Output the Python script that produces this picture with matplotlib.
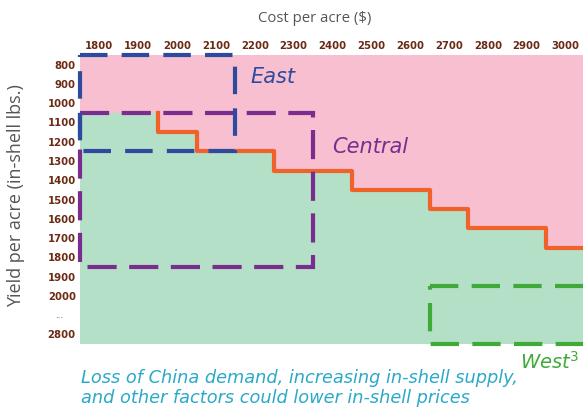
import numpy as np
import matplotlib
matplotlib.use("Agg")
import matplotlib.pyplot as plt
from matplotlib.colors import ListedColormap
from matplotlib.patches import Rectangle

# Cost per acre columns and yield per acre rows
costs = [1800, 1900, 2000, 2100, 2200, 2300, 2400, 2500, 2600, 2700, 2800, 2900, 3000]
yield_labels = ["800", "900", "1000", "1100", "1200", "1300", "1400", "1500",
                "1600", "1700", "1800", "1900", "2000", "...", "2800"]

# Lowest profitable yield (lbs/acre) for each cost level
breakeven_yield = ["1100", "1100", "1200", "1300", "1300", "1400", "1400",
                   "1500", "1500", "1600", "1700", "1700", "1800"]

# Regional operating ranges: (cost from, cost to, yield from, yield to)
east_range = (1800, 2100, "800", "1200")
central_range = (1800, 2300, "1100", "1800")
west_range = (2700, 3000, "2000", "2800")

PINK = "#F7BFD0"
GREEN = "#B4E0C8"
ORANGE = "#F0622A"
BLUE = "#2C4A9E"
PURPLE = "#7A2D8E"
WGREEN = "#3FAA38"
TEAL = "#2AA9C8"
TICK = "#6A2A14"
GRAY = "#555555"

n_rows, n_cols = len(yield_labels), len(costs)
first_ok = [yield_labels.index(y) for y in breakeven_yield]
profit = np.zeros((n_rows, n_cols))
for j, r in enumerate(first_ok):
    profit[r:, j] = 1

fig = plt.figure(figsize=(5.83, 4.08), dpi=100)
ax = fig.add_axes([80 / 583, 64 / 408, 505 / 583, 289 / 408])
ax.pcolormesh(np.arange(n_cols + 1) - 0.5, np.arange(n_rows + 1) - 0.5, profit,
              cmap=ListedColormap([PINK, GREEN]), vmin=0, vmax=1)
ax.set_xlim(-0.5, n_cols - 0.5)
ax.set_ylim(n_rows - 0.5, -0.5)

# Breakeven step line, starting where the threshold first steps down
start = next(j for j in range(1, n_cols) if first_ok[j] != first_ok[0])
xs = np.arange(start, n_cols + 1) - 0.5
ys = [first_ok[start - 1] - 0.5] + [r - 0.5 for r in first_ok[start:]]
ax.step(xs, ys, where="pre", color=ORANGE, lw=3.0, zorder=3, clip_on=False)


def region_box(rng, color, dashes):
    c0, c1, y0, y1 = rng
    i0, i1 = costs.index(c0), costs.index(c1)
    r0, r1 = yield_labels.index(y0), yield_labels.index(y1)
    rect = Rectangle((i0 - 0.5, r0 - 0.5), i1 - i0 + 1, r1 - r0 + 1,
                     fill=False, edgecolor=color, lw=3.0, zorder=4,
                     clip_on=False, linestyle=(0, dashes), joinstyle="miter")
    ax.add_patch(rect)


region_box(central_range, PURPLE, (7.0, 3.0))
region_box(east_range, BLUE, (6.6, 3.4))
region_box(west_range, WGREEN, (6.8, 3.2))

ax.text(3.9, 0.65, "East", color=BLUE, fontsize=15, style="italic",
        family="DejaVu Sans", ha="left", va="center", zorder=5)
ax.text(6.0, 4.25, "Central", color=PURPLE, fontsize=15, style="italic",
        family="DejaVu Sans", ha="left", va="center", zorder=5)
ax.text(10.83, 15.45, "West$^3$", color=WGREEN, fontsize=14, style="italic",
        family="DejaVu Sans", ha="left", va="center", zorder=5)

ax.xaxis.tick_top()
ax.set_xticks(range(n_cols))
ax.set_xticklabels([str(c) for c in costs], fontsize=7.3, fontweight="bold",
                   color=TICK)
ax.set_yticks(range(n_rows))
ax.set_yticklabels(yield_labels, fontsize=7.3, fontweight="bold", color=TICK)
for lab in ax.get_yticklabels():
    if lab.get_text() == "...":
        lab.set_color("#999999")
        lab.set_fontsize(5)
        lab.set_x(-0.025)
ax.tick_params(length=0, pad=3)
ax.tick_params(axis="x", pad=3)
for s in ax.spines.values():
    s.set_visible(False)

fig.text(315 / 583, 1 - 18 / 408, "Cost per acre ($)", fontsize=10.7,
         color=GRAY, family="Open Sans", ha="center", va="center")
fig.text(16 / 583, 1 - 196 / 408, "Yield per acre (in-shell lbs.)", fontsize=13,
         color=GRAY, family="Open Sans", rotation=90, ha="center", va="center")
fig.text(81 / 583, 1 - 378 / 408,
         "Loss of China demand, increasing in-shell supply,", fontsize=12.8,
         color=TEAL, style="italic", family="DejaVu Sans",
         ha="left", va="center")
fig.text(81 / 583, 1 - 398 / 408,
         "and other factors could lower in-shell prices", fontsize=12.8,
         color=TEAL, style="italic", family="DejaVu Sans",
         ha="left", va="center")

fig.savefig("out.png", dpi=100)
